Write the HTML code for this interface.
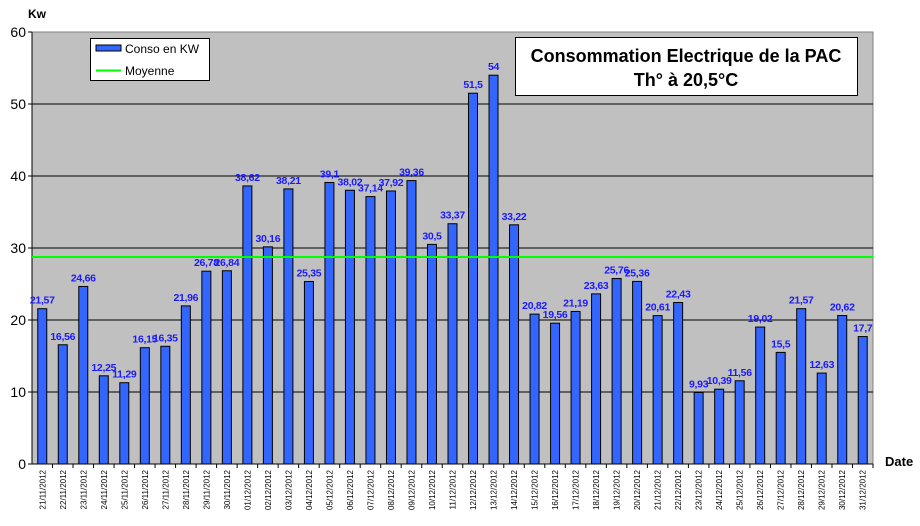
<!DOCTYPE html>
<html><head><meta charset="utf-8"><style>
html,body{margin:0;padding:0;background:#fff;width:920px;height:526px;overflow:hidden}
svg{display:block;font-family:"Liberation Sans",Arial,sans-serif}
</style></head><body>
<svg id="c" width="920" height="526" xmlns="http://www.w3.org/2000/svg"></svg>
<script>
var vals=[21.57,16.56,24.66,12.25,11.29,16.15,16.35,21.96,26.78,26.84,38.62,30.16,38.21,25.35,39.1,38.02,37.14,37.92,39.36,30.5,33.37,51.5,54,33.22,20.82,19.56,21.19,23.63,25.76,25.36,20.61,22.43,9.93,10.39,11.56,19.02,15.5,21.57,12.63,20.62,17.7];
var dates=[];
for(var d=21;d<=30;d++)dates.push(d+"/11/2012");
for(var d=1;d<=31;d++)dates.push((d<10?"0":"")+d+"/12/2012");
var L=32,R=873,T=32,B=464,n=41,sw=(R-L)/n,k=(B-T)/60;
var s='<rect x="'+L+'" y="'+T+'" width="'+(R-L)+'" height="'+(B-T)+'" fill="#c0c0c0" stroke="#808080"/>';
for(var v=0;v<=60;v+=10){var y=B-v*k;
 if(v>0&&v<60)s+='<line x1="'+L+'" x2="'+R+'" y1="'+y+'" y2="'+y+'" stroke="#000"/>';
 s+='<line x1="'+(L-4)+'" x2="'+L+'" y1="'+y+'" y2="'+y+'" stroke="#000"/>';
 s+='<text x="'+(L-6)+'" y="'+(y+5)+'" font-size="14" text-anchor="end">'+v+'</text>';}
s+='<line x1="'+L+'" x2="'+L+'" y1="'+T+'" y2="'+B+'" stroke="#000"/>';
s+='<line x1="'+L+'" x2="'+R+'" y1="'+B+'" y2="'+B+'" stroke="#000"/>';
for(var i=0;i<n;i++){var cx=L+sw*(i+0.5),h=vals[i]*k,y=B-h;
 s+='<rect x="'+(cx-4.5)+'" y="'+y+'" width="9" height="'+h+'" fill="#3366ff" stroke="#000" stroke-width="1"/>';
 s+='<text x="'+cx+'" y="'+(y-5)+'" font-size="10.5" letter-spacing="-0.3" font-weight="bold" fill="#1a1aff" text-anchor="middle">'+String(vals[i]).replace(".",",")+'</text>';
 var tx=L+sw*(i+1);
 s+='<line x1="'+tx+'" x2="'+tx+'" y1="'+B+'" y2="'+(B+4)+'" stroke="#000"/>';
 s+='<text transform="translate('+(cx+3)+',470) rotate(-90)" font-size="8" text-anchor="end">'+dates[i]+'</text>';}
var my=B-28.75*k;
s+='<line x1="'+L+'" x2="'+R+'" y1="'+my+'" y2="'+my+'" stroke="#00ff00" stroke-width="2"/>';
s+='<text x="28" y="18" font-size="12" font-weight="bold">Kw</text>';
s+='<text x="885" y="466" font-size="13" font-weight="bold">Date</text>';
s+='<rect x="90.5" y="38.5" width="119" height="42" fill="#fff" stroke="#000"/>';
s+='<rect x="96" y="45" width="25" height="6" fill="#3366ff" stroke="#000"/>';
s+='<text x="125" y="53" font-size="12">Conso en KW</text>';
s+='<line x1="96" x2="121" y1="70.5" y2="70.5" stroke="#00ff00" stroke-width="2"/>';
s+='<text x="125" y="75" font-size="12">Moyenne</text>';
s+='<rect x="515.5" y="37.5" width="342" height="58" fill="#fff" stroke="#000"/>';
s+='<text x="686" y="62" font-size="18" font-weight="bold" text-anchor="middle">Consommation Electrique de la PAC</text>';
s+='<text x="686" y="86" font-size="18" font-weight="bold" text-anchor="middle">Th° à  20,5°C</text>';
document.getElementById("c").innerHTML=s;
</script>
</body></html>
